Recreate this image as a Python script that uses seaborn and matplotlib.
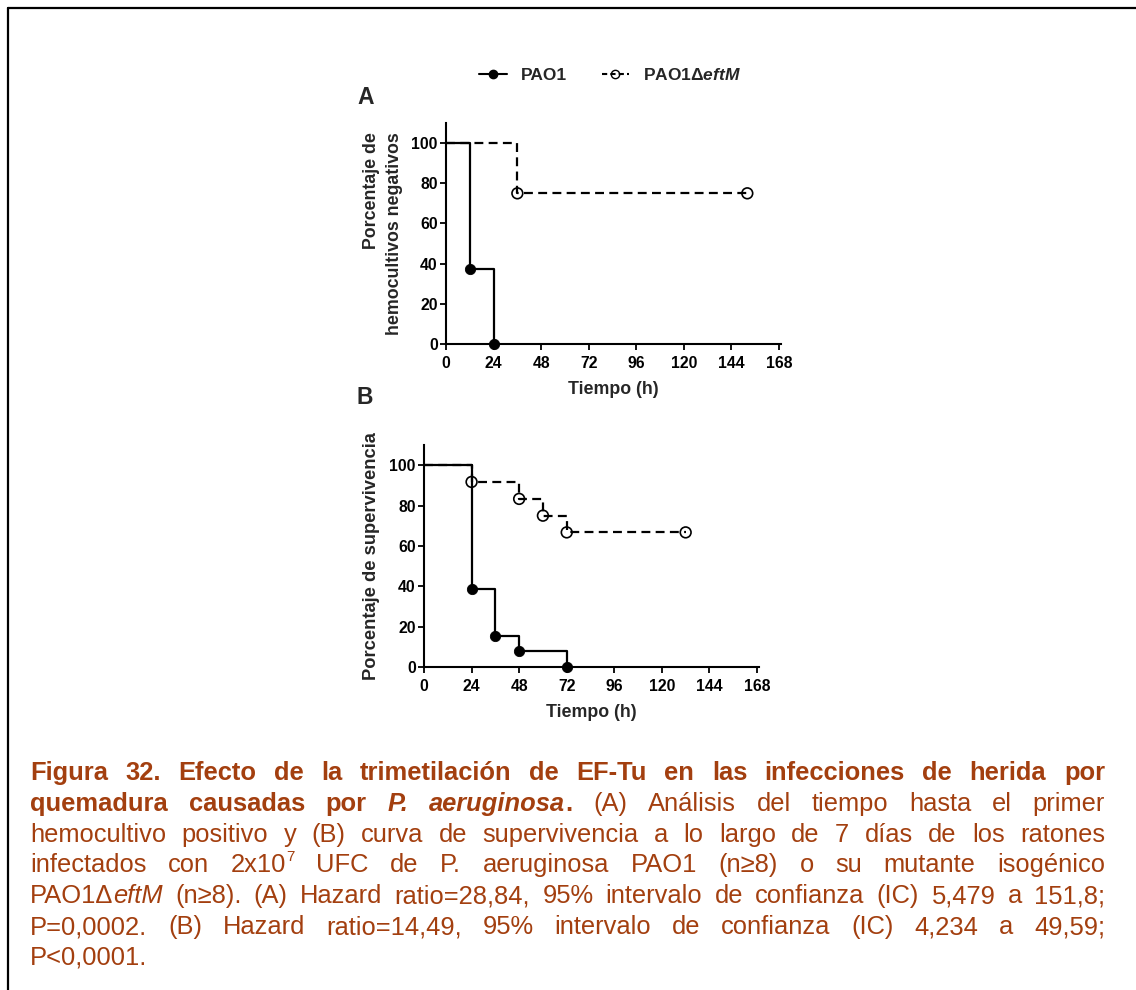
import matplotlib
matplotlib.use("Agg")
import matplotlib.pyplot as plt
from matplotlib.lines import Line2D
from matplotlib.transforms import IdentityTransform
import seaborn as sns

# Panel A: time to first positive blood culture (% negative)
A_PAO1_TIME = [0, 12, 24]
A_PAO1_PCT = [100, 37.5, 0]
A_MUT_TIME = [0, 36, 152]
A_MUT_PCT = [100, 75, 75]

# Panel B: survival
B_PAO1_TIME = [0, 24, 36, 48, 72]
B_PAO1_PCT = [100, 38.5, 15.4, 7.7, 0]
B_MUT_TIME = [0, 24, 48, 60, 72, 132]
B_MUT_PCT = [100, 91.7, 83.3, 75, 66.7, 66.7]

X_TICKS = [0, 24, 48, 72, 96, 120, 144, 168]
Y_TICKS = [0, 20, 40, 60, 80, 100]

LABEL_PAO1 = "PAO1"
LABEL_MUT = "PAO1\u0394$\\mathit{eftM}$"
YLABEL_A = "Porcentaje de\nhemocultivos negativos"
YLABEL_B = "Porcentaje de supervivencia"
XLABEL = "Tiempo (h)"

# caption lines: runs of (text, style)
CAPTION = [
    [("Figura 32. Efecto de la trimetilación de EF-Tu en las infecciones de herida por", "b")],
    [("quemadura causadas por ", "b"), ("P. aeruginosa", "bi"), (".", "b"),
     (" (A) Análisis del tiempo hasta el primer", "r")],
    [("hemocultivo positivo y (B) curva de supervivencia a lo largo de 7 días de los ratones", "r")],
    [("infectados con 2x10", "r"), ("7", "sup"),
     (" UFC de P. aeruginosa PAO1 (n≥8) o su mutante isogénico", "r")],
    [("PAO1Δ", "r"), ("eftM", "i"),
     (" (n≥8). (A) Hazard ratio=28,84, 95% intervalo de confianza (IC) 5,479 a 151,8;", "r")],
    [("P=0,0002. (B) Hazard ratio=14,49, 95% intervalo de confianza (IC) 4,234 a 49,59;", "r")],
    [("P<0,0001.", "r")],
]
CAPTION_COLOR = "#A33F0F"

W_PX, H_PX = 1136, 990

sns.set_theme(style="ticks")
plt.rcParams["font.family"] = ["Liberation Sans", "DejaVu Sans"]
plt.rcParams["font.weight"] = "bold"
plt.rcParams["mathtext.fontset"] = "custom"
plt.rcParams["mathtext.it"] = "Liberation Sans:italic:bold"
plt.rcParams["mathtext.rm"] = "Liberation Sans:bold"


def px_axes(fig, left, top, right, bottom):
    return fig.add_axes([left / W_PX, 1 - bottom / H_PX,
                         (right - left) / W_PX, (bottom - top) / H_PX])


def draw_panel(ax, pao1_t, pao1_p, mut_t, mut_p):
    sns.lineplot(x=mut_t, y=mut_p, ax=ax, color="black", lw=1.6,
                 linestyle=(0, (4, 2.4)), drawstyle="steps-post",
                 estimator=None, sort=False)
    sns.lineplot(x=pao1_t, y=pao1_p, ax=ax, color="black", lw=1.6,
                 drawstyle="steps-post", estimator=None, sort=False)
    sns.scatterplot(x=mut_t[1:], y=mut_p[1:], ax=ax, marker="o", s=60,
                    facecolors="none", edgecolor="black", linewidth=1.2,
                    clip_on=False, zorder=5)
    sns.scatterplot(x=pao1_t[1:], y=pao1_p[1:], ax=ax, marker="o", s=55,
                    color="black", edgecolor="black", clip_on=False, zorder=6)
    ax.set_xlim(0, 169)
    ax.set_ylim(0, 110)
    ax.set_xticks(X_TICKS)
    ax.set_yticks(Y_TICKS)
    ax.set_xticklabels([str(t) for t in X_TICKS], fontsize=11.3, fontweight="bold")
    ax.set_yticklabels([str(t) for t in Y_TICKS], fontsize=11.3, fontweight="bold")
    sns.despine(ax=ax)
    for s in ("left", "bottom"):
        ax.spines[s].set_linewidth(1.5)
        ax.spines[s].set_color("black")
    ax.tick_params(direction="out", length=4, width=1.3, color="black",
                   labelcolor="black")
    ax.tick_params(axis="x", pad=4.5)
    ax.tick_params(axis="y", pad=2)
    ax.set_xlabel(XLABEL, fontsize=12.8, fontweight="bold", labelpad=7)


def draw_caption(fig):
    renderer = fig.canvas.get_renderer()
    styles = {
        "b": dict(fontweight="bold", fontstyle="normal", fontsize=18.4),
        "bi": dict(fontweight="bold", fontstyle="italic", fontsize=18.4),
        "r": dict(fontweight="normal", fontstyle="normal", fontsize=18.4),
        "i": dict(fontweight="normal", fontstyle="italic", fontsize=18.4),
        "sup": dict(fontweight="normal", fontstyle="normal", fontsize=11),
    }
    left, right = 30, 1105
    base0, step = 780, 30.8
    for i, line in enumerate(CAPTION):
        # split runs into words
        words, cur = [], []
        for text, st in line:
            parts = text.split(" ")
            for j, part in enumerate(parts):
                if j > 0 and cur:
                    words.append(cur)
                    cur = []
                if part:
                    cur.append((part, st))
        if cur:
            words.append(cur)
        # measure
        widths = []
        for w in words:
            segs = []
            for part, st in w:
                t = fig.text(0, 0, part, transform=IdentityTransform(), **styles[st])
                segs.append(t.get_window_extent(renderer).width)
                t.remove()
            widths.append(segs)
        total = sum(sum(s) for s in widths)
        last = i == len(CAPTION) - 1
        if last or len(words) < 2:
            gap = 0.278 * 18.4 * 100 / 72
        else:
            gap = (right - left - total) / (len(words) - 1)
        y = H_PX - (base0 + i * step)
        x = left
        for w, segs in zip(words, widths):
            for (part, st), sw in zip(w, segs):
                dy = 11 if st == "sup" else 0
                fig.text(x, y + dy, part, transform=IdentityTransform(),
                         color=CAPTION_COLOR, va="baseline", ha="left",
                         **styles[st])
                x += sw
            x += gap


def main():
    fig = plt.figure(figsize=(W_PX / 100, H_PX / 100), dpi=100)

    ax_a = px_axes(fig, 446, 123, 781, 344)
    draw_panel(ax_a, A_PAO1_TIME, A_PAO1_PCT, A_MUT_TIME, A_MUT_PCT)
    ax_a.set_ylabel(YLABEL_A, fontsize=12.8, fontweight="bold",
                    multialignment="right", linespacing=1.45)
    ax_a.yaxis.set_label_coords(-0.128, 0.5)

    ax_b = px_axes(fig, 424, 445, 759, 667)
    draw_panel(ax_b, B_PAO1_TIME, B_PAO1_PCT, B_MUT_TIME, B_MUT_PCT)
    ax_b.set_ylabel(YLABEL_B, fontsize=13.2, fontweight="bold")
    ax_b.yaxis.set_label_coords(-0.131, 0.5)

    fig.text(357 / W_PX, 1 - 97 / H_PX, "A", fontsize=16.5, fontweight="bold",
             va="center", ha="left")
    fig.text(357 / W_PX, 1 - 397 / H_PX, "B", fontsize=16.5, fontweight="bold",
             va="center", ha="left")

    handles = [
        Line2D([], [], color="black", lw=1.5, marker="o", markersize=6),
        Line2D([], [], color="black", lw=1.5, linestyle=(0, (2.5, 1.5)),
               marker="o", markersize=6, markerfacecolor="none"),
    ]
    fig.legend(handles, [LABEL_PAO1, LABEL_MUT], ncol=2, loc="center",
               bbox_to_anchor=(610 / W_PX, 1 - 75 / H_PX), frameon=False,
               fontsize=12.5, handlelength=1.6, handletextpad=0.8,
               columnspacing=2.0)

    # frame lines (left and top)
    fig.add_artist(Line2D([8 / W_PX, 8 / W_PX], [0, 1 - 8 / H_PX],
                          color="black", lw=1.6, transform=fig.transFigure))
    fig.add_artist(Line2D([8 / W_PX, 1], [1 - 8 / H_PX, 1 - 8 / H_PX],
                          color="black", lw=1.6, transform=fig.transFigure))

    draw_caption(fig)

    fig.savefig("out.png", dpi=100)
    plt.close(fig)


if __name__ == "__main__":
    main()
